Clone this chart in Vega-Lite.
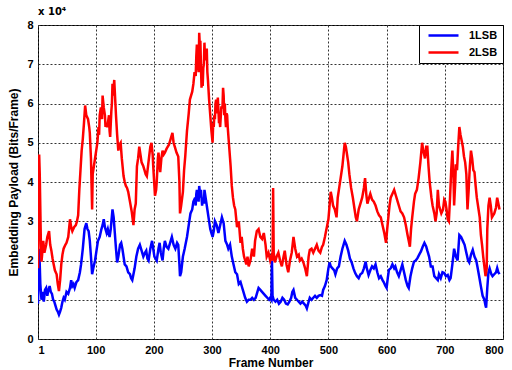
{
"$schema":"https://vega.github.io/schema/vega-lite/v6.json",
"width":465,"height":314,
"autosize":{"type":"none"},
"padding":{"left":38,"top":25,"right":9,"bottom":31},
"background":"white",
"title":{"text":"x 10⁴","anchor":"start","frame":"group","offset":2,"fontSize":10,"fontWeight":"bold","font":"DejaVu Sans","color":"#000"},
"config":{
 "view":{"stroke":"#000","strokeWidth":1},
 "axis":{"labelFont":"Liberation Sans","labelFontWeight":"bold","labelFontSize":11,"labelColor":"#000","titleFont":"Liberation Sans","titleFontWeight":"bold","titleFontSize":12,"titleColor":"#000","grid":true,"gridColor":"#333","gridDash":[2,2],"gridWidth":1,"domain":false,"ticks":false,"labelPadding":5},
 "legend":{"labelFont":"Liberation Sans","labelFontWeight":"bold","labelFontSize":11,"labelColor":"#000"}
},
"encoding":{
 "x":{"field":"f","type":"quantitative","scale":{"domain":[1,800],"nice":false,"zero":false},"axis":{"values":[1,100,200,300,400,500,600,700,800],"title":"Frame Number","titlePadding":2}},
 "y":{"field":"v","type":"quantitative","scale":{"domain":[0,80000],"nice":false},"axis":{"values":[0,10000,20000,30000,40000,50000,60000,70000,80000],"labelExpr":"datum.value/10000","title":"Embedding Payload (Bits/Frame)","titlePadding":6}},
 "color":{"datum":"1LSB","type":"nominal","scale":{"domain":["1LSB","2LSB"],"range":["#0000FF","#FF0000"]},"legend":{"title":null,"orient":"top-right","offset":0,"padding":5,"strokeColor":"#000","fillColor":"white","symbolType":"M-5,0H5","symbolSize":36,"symbolOffset":14,"symbolStrokeWidth":2.5,"rowPadding":5,"labelOffset":20,"cornerRadius":0}}
},
"layer":[
{"data":{"values":[{"f":1,"v":9000},{"f":2,"v":16000},{"f":3,"v":23000},{"f":4,"v":19000},{"f":5,"v":14000},{"f":7,"v":10000},{"f":9,"v":12000},{"f":11,"v":9500},{"f":13,"v":12500},{"f":15,"v":13000},{"f":17,"v":11000},{"f":19,"v":12500},{"f":21,"v":13500},{"f":23,"v":12000},{"f":25,"v":11500},{"f":27,"v":10000},{"f":29,"v":9500},{"f":31,"v":8500},{"f":33,"v":7500},{"f":35,"v":7000},{"f":37,"v":6200},{"f":39,"v":7000},{"f":41,"v":8000},{"f":43,"v":9500},{"f":45,"v":10500},{"f":47,"v":10000},{"f":50,"v":12000},{"f":53,"v":11500},{"f":56,"v":13000},{"f":58,"v":15000},{"f":60,"v":13500},{"f":62,"v":14000},{"f":64,"v":13000},{"f":67,"v":14500},{"f":70,"v":15000},{"f":73,"v":17000},{"f":75,"v":19000},{"f":78,"v":23000},{"f":81,"v":28000},{"f":84,"v":29500},{"f":86,"v":28000},{"f":88,"v":27500},{"f":90,"v":25000},{"f":92,"v":21000},{"f":94,"v":16500},{"f":96,"v":18000},{"f":99,"v":20000},{"f":101,"v":22000},{"f":104,"v":25000},{"f":107,"v":26000},{"f":110,"v":28000},{"f":112,"v":29000},{"f":114,"v":30500},{"f":116,"v":28500},{"f":119,"v":27000},{"f":121,"v":28000},{"f":124,"v":26000},{"f":126,"v":28000},{"f":129,"v":33000},{"f":131,"v":31000},{"f":133,"v":27000},{"f":135,"v":23000},{"f":137,"v":19500},{"f":139,"v":21000},{"f":142,"v":24000},{"f":144,"v":24500},{"f":146,"v":23000},{"f":148,"v":21000},{"f":150,"v":19000},{"f":153,"v":18500},{"f":156,"v":17000},{"f":159,"v":16500},{"f":161,"v":15500},{"f":163,"v":15000},{"f":165,"v":16500},{"f":167,"v":18000},{"f":170,"v":21000},{"f":173,"v":23000},{"f":176,"v":24000},{"f":179,"v":22500},{"f":182,"v":21000},{"f":185,"v":22000},{"f":187,"v":22500},{"f":189,"v":20500},{"f":191,"v":20000},{"f":194,"v":23000},{"f":197,"v":25000},{"f":199,"v":23000},{"f":201,"v":21000},{"f":203,"v":20500},{"f":205,"v":20000},{"f":208,"v":23000},{"f":210,"v":24500},{"f":212,"v":22000},{"f":215,"v":20000},{"f":217,"v":23000},{"f":219,"v":25000},{"f":222,"v":23500},{"f":225,"v":23000},{"f":228,"v":24500},{"f":231,"v":26000},{"f":234,"v":24000},{"f":237,"v":23000},{"f":240,"v":24500},{"f":242,"v":24000},{"f":244,"v":19000},{"f":245,"v":16000},{"f":247,"v":17000},{"f":250,"v":21000},{"f":253,"v":23000},{"f":257,"v":26000},{"f":260,"v":29000},{"f":263,"v":32000},{"f":266,"v":33000},{"f":268,"v":35000},{"f":271,"v":36000},{"f":272,"v":34000},{"f":273,"v":37000},{"f":274,"v":38000},{"f":276,"v":36000},{"f":277,"v":35000},{"f":278,"v":39000},{"f":279,"v":37500},{"f":280,"v":36000},{"f":281,"v":38000},{"f":283,"v":34000},{"f":284,"v":35500},{"f":285,"v":36000},{"f":286,"v":34500},{"f":287,"v":38000},{"f":288,"v":37000},{"f":289,"v":36000},{"f":292,"v":33000},{"f":294,"v":31000},{"f":297,"v":28000},{"f":299,"v":27000},{"f":301,"v":26000},{"f":303,"v":27500},{"f":305,"v":30000},{"f":308,"v":29000},{"f":311,"v":27000},{"f":314,"v":29000},{"f":317,"v":31000},{"f":320,"v":29500},{"f":323,"v":25000},{"f":326,"v":24000},{"f":328,"v":23000},{"f":331,"v":24000},{"f":334,"v":21000},{"f":337,"v":19000},{"f":340,"v":17000},{"f":343,"v":16500},{"f":346,"v":14000},{"f":349,"v":14500},{"f":351,"v":13500},{"f":354,"v":12000},{"f":357,"v":10500},{"f":360,"v":9500},{"f":363,"v":10000},{"f":366,"v":10000},{"f":369,"v":10500},{"f":372,"v":10000},{"f":375,"v":10500},{"f":378,"v":12000},{"f":380,"v":13000},{"f":383,"v":12500},{"f":386,"v":12000},{"f":389,"v":11500},{"f":392,"v":11000},{"f":395,"v":10500},{"f":398,"v":10000},{"f":400,"v":10500},{"f":402,"v":10000},{"f":403,"v":20000},{"f":404,"v":11000},{"f":406,"v":10000},{"f":409,"v":9500},{"f":412,"v":10000},{"f":415,"v":9000},{"f":418,"v":9500},{"f":421,"v":10500},{"f":424,"v":10000},{"f":427,"v":9000},{"f":430,"v":8800},{"f":433,"v":9500},{"f":436,"v":10500},{"f":438,"v":12000},{"f":440,"v":12500},{"f":443,"v":10500},{"f":446,"v":10000},{"f":449,"v":9500},{"f":452,"v":9000},{"f":455,"v":9500},{"f":458,"v":9000},{"f":461,"v":8500},{"f":463,"v":7800},{"f":466,"v":9500},{"f":468,"v":10500},{"f":471,"v":10000},{"f":474,"v":10500},{"f":477,"v":11000},{"f":480,"v":10500},{"f":483,"v":11000},{"f":486,"v":11200},{"f":489,"v":11000},{"f":491,"v":12500},{"f":494,"v":13500},{"f":497,"v":15000},{"f":500,"v":18000},{"f":502,"v":19500},{"f":504,"v":18500},{"f":507,"v":18000},{"f":510,"v":17500},{"f":512,"v":16500},{"f":515,"v":18000},{"f":518,"v":18500},{"f":521,"v":21000},{"f":524,"v":23000},{"f":526,"v":24000},{"f":528,"v":25000},{"f":531,"v":24000},{"f":534,"v":22500},{"f":537,"v":20500},{"f":540,"v":19500},{"f":543,"v":18000},{"f":546,"v":16800},{"f":549,"v":16000},{"f":552,"v":15500},{"f":555,"v":16500},{"f":558,"v":16800},{"f":561,"v":18000},{"f":564,"v":19700},{"f":566,"v":18000},{"f":569,"v":16300},{"f":572,"v":17500},{"f":575,"v":18500},{"f":578,"v":18000},{"f":581,"v":19000},{"f":584,"v":17000},{"f":587,"v":15500},{"f":590,"v":16000},{"f":593,"v":15000},{"f":595,"v":14500},{"f":598,"v":13500},{"f":600,"v":13000},{"f":602,"v":15500},{"f":604,"v":17600},{"f":607,"v":18000},{"f":610,"v":19000},{"f":613,"v":18000},{"f":615,"v":18500},{"f":618,"v":17000},{"f":621,"v":16000},{"f":624,"v":17500},{"f":627,"v":19000},{"f":630,"v":17000},{"f":633,"v":15000},{"f":636,"v":13500},{"f":638,"v":13000},{"f":641,"v":16000},{"f":644,"v":18000},{"f":647,"v":19700},{"f":650,"v":20000},{"f":653,"v":20600},{"f":656,"v":21500},{"f":659,"v":22300},{"f":662,"v":23500},{"f":665,"v":24500},{"f":668,"v":23600},{"f":670,"v":22500},{"f":673,"v":21000},{"f":676,"v":18500},{"f":679,"v":18500},{"f":682,"v":16000},{"f":685,"v":15500},{"f":688,"v":15000},{"f":690,"v":16500},{"f":693,"v":15500},{"f":696,"v":17000},{"f":699,"v":16800},{"f":702,"v":16000},{"f":705,"v":16300},{"f":708,"v":15000},{"f":710,"v":15500},{"f":713,"v":19000},{"f":716,"v":23000},{"f":719,"v":21000},{"f":722,"v":20000},{"f":725,"v":26500},{"f":728,"v":26000},{"f":731,"v":25000},{"f":734,"v":24000},{"f":737,"v":22000},{"f":740,"v":20000},{"f":742,"v":19500},{"f":745,"v":21500},{"f":748,"v":22700},{"f":751,"v":21000},{"f":754,"v":20000},{"f":756,"v":18500},{"f":759,"v":16000},{"f":762,"v":13400},{"f":765,"v":11000},{"f":768,"v":10000},{"f":770,"v":8500},{"f":771,"v":8000},{"f":773,"v":13000},{"f":775,"v":17000},{"f":777,"v":18000},{"f":780,"v":16500},{"f":782,"v":16000},{"f":785,"v":16500},{"f":788,"v":17000},{"f":790,"v":18100},{"f":792,"v":17000},{"f":794,"v":16500}]},
 "mark":{"type":"line","strokeWidth":2.5,"clip":true},
 "encoding":{"color":{"datum":"1LSB","type":"nominal"}}},
{"data":{"values":[{"f":1,"v":18000},{"f":2,"v":30000},{"f":3,"v":47000},{"f":4,"v":42000},{"f":5,"v":33000},{"f":6,"v":24000},{"f":7,"v":19700},{"f":9,"v":23000},{"f":10,"v":25000},{"f":12,"v":22000},{"f":15,"v":24000},{"f":17,"v":26000},{"f":20,"v":27500},{"f":22,"v":24000},{"f":24,"v":22500},{"f":26,"v":20500},{"f":28,"v":19000},{"f":30,"v":17500},{"f":33,"v":16500},{"f":35,"v":14000},{"f":37,"v":12200},{"f":39,"v":15000},{"f":41,"v":19000},{"f":43,"v":21500},{"f":45,"v":23000},{"f":48,"v":24000},{"f":50,"v":24500},{"f":53,"v":26000},{"f":56,"v":30500},{"f":58,"v":28500},{"f":60,"v":27500},{"f":63,"v":28500},{"f":66,"v":29000},{"f":68,"v":30000},{"f":70,"v":31500},{"f":72,"v":38000},{"f":74,"v":43000},{"f":76,"v":48000},{"f":78,"v":51000},{"f":80,"v":55000},{"f":82,"v":59500},{"f":84,"v":57000},{"f":87,"v":56000},{"f":89,"v":54000},{"f":90,"v":52500},{"f":92,"v":46000},{"f":94,"v":33000},{"f":95,"v":42000},{"f":97,"v":44000},{"f":99,"v":46000},{"f":101,"v":48000},{"f":103,"v":50000},{"f":105,"v":54000},{"f":106,"v":52000},{"f":107,"v":57000},{"f":109,"v":59000},{"f":111,"v":56000},{"f":112,"v":62000},{"f":113,"v":60500},{"f":114,"v":59000},{"f":116,"v":57000},{"f":117,"v":54000},{"f":118,"v":55000},{"f":120,"v":54000},{"f":122,"v":56000},{"f":123,"v":57000},{"f":124,"v":53000},{"f":125,"v":51500},{"f":127,"v":58000},{"f":128,"v":60000},{"f":129,"v":65000},{"f":130,"v":62000},{"f":131,"v":64000},{"f":132,"v":66000},{"f":134,"v":60000},{"f":135,"v":57000},{"f":137,"v":52000},{"f":139,"v":48000},{"f":141,"v":49500},{"f":143,"v":50000},{"f":145,"v":46000},{"f":148,"v":41500},{"f":150,"v":40000},{"f":152,"v":39000},{"f":154,"v":38500},{"f":156,"v":37500},{"f":159,"v":35000},{"f":162,"v":32500},{"f":165,"v":29000},{"f":167,"v":33000},{"f":169,"v":34500},{"f":171,"v":44000},{"f":173,"v":46000},{"f":175,"v":49000},{"f":177,"v":47000},{"f":179,"v":45000},{"f":182,"v":44000},{"f":184,"v":43000},{"f":186,"v":42000},{"f":188,"v":41500},{"f":190,"v":44000},{"f":192,"v":46500},{"f":194,"v":49000},{"f":196,"v":50000},{"f":198,"v":47000},{"f":199,"v":44000},{"f":201,"v":39000},{"f":202,"v":36500},{"f":204,"v":38000},{"f":205,"v":40000},{"f":207,"v":46000},{"f":208,"v":47500},{"f":210,"v":44000},{"f":211,"v":42500},{"f":213,"v":46000},{"f":215,"v":48000},{"f":217,"v":47000},{"f":219,"v":47500},{"f":222,"v":48500},{"f":224,"v":49000},{"f":226,"v":49500},{"f":229,"v":51000},{"f":232,"v":52500},{"f":234,"v":50000},{"f":236,"v":49000},{"f":239,"v":47500},{"f":242,"v":46500},{"f":244,"v":40000},{"f":245,"v":32000},{"f":247,"v":34000},{"f":250,"v":37500},{"f":252,"v":43000},{"f":254,"v":46500},{"f":257,"v":53000},{"f":260,"v":57500},{"f":262,"v":61000},{"f":264,"v":62000},{"f":266,"v":63000},{"f":268,"v":65000},{"f":270,"v":68000},{"f":272,"v":67000},{"f":273,"v":72000},{"f":274,"v":75000},{"f":275,"v":74000},{"f":276,"v":70000},{"f":277,"v":68000},{"f":278,"v":78000},{"f":279,"v":75000},{"f":280,"v":76000},{"f":281,"v":69500},{"f":282,"v":64000},{"f":283,"v":67000},{"f":284,"v":64500},{"f":285,"v":69000},{"f":286,"v":70000},{"f":287,"v":75500},{"f":288,"v":71000},{"f":289,"v":73000},{"f":290,"v":72000},{"f":291,"v":74000},{"f":292,"v":68000},{"f":293,"v":66000},{"f":295,"v":61000},{"f":297,"v":57000},{"f":299,"v":53000},{"f":301,"v":50000},{"f":302,"v":55000},{"f":303,"v":54000},{"f":304,"v":57000},{"f":305,"v":56000},{"f":306,"v":60000},{"f":307,"v":61000},{"f":308,"v":57500},{"f":309,"v":59000},{"f":310,"v":61500},{"f":311,"v":58500},{"f":312,"v":55000},{"f":313,"v":56000},{"f":314,"v":54000},{"f":316,"v":59000},{"f":318,"v":59000},{"f":319,"v":64000},{"f":320,"v":62000},{"f":321,"v":57000},{"f":322,"v":60000},{"f":323,"v":56000},{"f":324,"v":54000},{"f":325,"v":57500},{"f":326,"v":57000},{"f":327,"v":54000},{"f":329,"v":50000},{"f":331,"v":46000},{"f":332,"v":44000},{"f":334,"v":39000},{"f":336,"v":36000},{"f":338,"v":34000},{"f":340,"v":33000},{"f":343,"v":28500},{"f":346,"v":30000},{"f":349,"v":24500},{"f":351,"v":26000},{"f":353,"v":23000},{"f":355,"v":21000},{"f":357,"v":20000},{"f":359,"v":19000},{"f":361,"v":21000},{"f":363,"v":18500},{"f":366,"v":20000},{"f":369,"v":23000},{"f":372,"v":21000},{"f":374,"v":25000},{"f":377,"v":27500},{"f":380,"v":28000},{"f":383,"v":26000},{"f":386,"v":25500},{"f":389,"v":27000},{"f":392,"v":24000},{"f":394,"v":21000},{"f":397,"v":22000},{"f":400,"v":20000},{"f":402,"v":21000},{"f":404,"v":20000},{"f":405,"v":38500},{"f":406,"v":22000},{"f":408,"v":19500},{"f":411,"v":21000},{"f":414,"v":22000},{"f":417,"v":20000},{"f":420,"v":18500},{"f":423,"v":21000},{"f":425,"v":22500},{"f":428,"v":19000},{"f":431,"v":17000},{"f":434,"v":20000},{"f":437,"v":22000},{"f":440,"v":26000},{"f":443,"v":23000},{"f":446,"v":21000},{"f":449,"v":21500},{"f":451,"v":20000},{"f":454,"v":20500},{"f":457,"v":19500},{"f":460,"v":18000},{"f":463,"v":16000},{"f":466,"v":21000},{"f":468,"v":22700},{"f":471,"v":23000},{"f":474,"v":22000},{"f":477,"v":23000},{"f":480,"v":24000},{"f":483,"v":22500},{"f":486,"v":22000},{"f":489,"v":23500},{"f":491,"v":24000},{"f":494,"v":26000},{"f":496,"v":27500},{"f":498,"v":29000},{"f":500,"v":30500},{"f":502,"v":34000},{"f":504,"v":37500},{"f":506,"v":36000},{"f":508,"v":34000},{"f":511,"v":33000},{"f":514,"v":31000},{"f":516,"v":36000},{"f":518,"v":38000},{"f":521,"v":41000},{"f":524,"v":44000},{"f":526,"v":47000},{"f":528,"v":50000},{"f":530,"v":49000},{"f":532,"v":47000},{"f":534,"v":45000},{"f":536,"v":42000},{"f":539,"v":38500},{"f":542,"v":36000},{"f":545,"v":33000},{"f":547,"v":31000},{"f":549,"v":30000},{"f":552,"v":33000},{"f":555,"v":34500},{"f":558,"v":36000},{"f":561,"v":38500},{"f":563,"v":41000},{"f":565,"v":37000},{"f":567,"v":34500},{"f":570,"v":36000},{"f":572,"v":37000},{"f":575,"v":35500},{"f":578,"v":35000},{"f":581,"v":34000},{"f":584,"v":32500},{"f":587,"v":31500},{"f":590,"v":31000},{"f":593,"v":29000},{"f":596,"v":27000},{"f":599,"v":24500},{"f":601,"v":28000},{"f":603,"v":31000},{"f":605,"v":34000},{"f":607,"v":36000},{"f":610,"v":37000},{"f":613,"v":38000},{"f":616,"v":36500},{"f":619,"v":35000},{"f":622,"v":33500},{"f":624,"v":32500},{"f":627,"v":32000},{"f":630,"v":31000},{"f":633,"v":29000},{"f":636,"v":26500},{"f":638,"v":25000},{"f":640,"v":23500},{"f":642,"v":28000},{"f":644,"v":31000},{"f":647,"v":35000},{"f":649,"v":37000},{"f":652,"v":38000},{"f":655,"v":41000},{"f":658,"v":45000},{"f":661,"v":50000},{"f":663,"v":48000},{"f":666,"v":46000},{"f":668,"v":49000},{"f":670,"v":49000},{"f":672,"v":44000},{"f":674,"v":40000},{"f":677,"v":36000},{"f":679,"v":34000},{"f":682,"v":32000},{"f":684,"v":30000},{"f":686,"v":32000},{"f":688,"v":38000},{"f":690,"v":34000},{"f":692,"v":33000},{"f":694,"v":32000},{"f":697,"v":33000},{"f":699,"v":35500},{"f":701,"v":35000},{"f":703,"v":33000},{"f":705,"v":30500},{"f":707,"v":30000},{"f":709,"v":36000},{"f":711,"v":43000},{"f":713,"v":48000},{"f":715,"v":41000},{"f":716,"v":34000},{"f":718,"v":40000},{"f":719,"v":44500},{"f":721,"v":43000},{"f":723,"v":49000},{"f":725,"v":54000},{"f":727,"v":52000},{"f":729,"v":50500},{"f":731,"v":49000},{"f":733,"v":46500},{"f":735,"v":45000},{"f":737,"v":42000},{"f":739,"v":33000},{"f":741,"v":38000},{"f":743,"v":44000},{"f":745,"v":48000},{"f":747,"v":46000},{"f":749,"v":43000},{"f":751,"v":42500},{"f":753,"v":39000},{"f":755,"v":36000},{"f":757,"v":34000},{"f":760,"v":31000},{"f":762,"v":26500},{"f":764,"v":24000},{"f":766,"v":21000},{"f":768,"v":18500},{"f":770,"v":16000},{"f":772,"v":18000},{"f":773,"v":28000},{"f":775,"v":34000},{"f":777,"v":36000},{"f":779,"v":34000},{"f":781,"v":31000},{"f":783,"v":31500},{"f":785,"v":32000},{"f":788,"v":33500},{"f":790,"v":36000},{"f":792,"v":34500},{"f":794,"v":33000}]},
 "mark":{"type":"line","strokeWidth":2.5,"clip":true},
 "encoding":{"color":{"datum":"2LSB","type":"nominal"}}}
]
}
